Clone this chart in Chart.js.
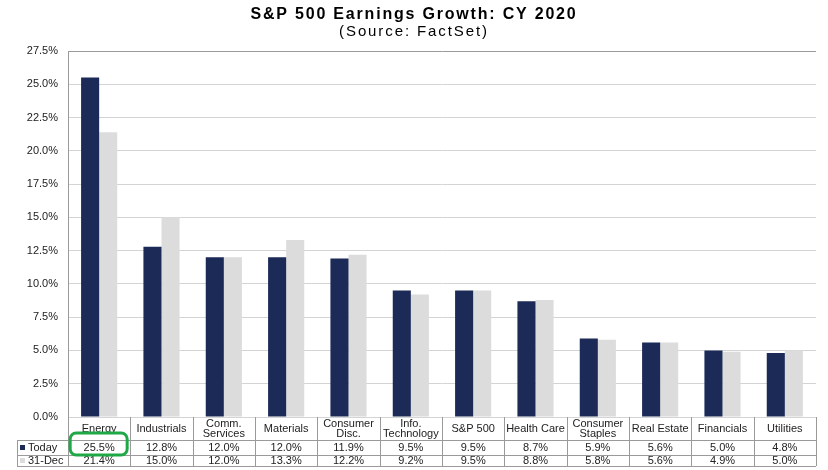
<!DOCTYPE html>
<html>
<head>
<meta charset="utf-8">
<script src="https://cdn.jsdelivr.net/npm/chart.js@4/dist/chart.umd.min.js"></script>
<style>
  html, body { margin: 0; padding: 0; background: #fff; }
  #wrap { width: 828px; height: 470px; }
</style>
</head>
<body>
<div id="wrap"><canvas id="myChart" width="828" height="470"></canvas></div>
<script>
// data
var categories = ['Energy', 'Industrials', ['Comm.', 'Services'], 'Materials', ['Consumer', 'Disc.'],
    ['Info.', 'Technology'], 'S&P 500', 'Health Care', ['Consumer', 'Staples'], 'Real Estate', 'Financials', 'Utilities'];
var today = [25.5, 12.8, 12.0, 12.0, 11.9, 9.5, 9.5, 8.7, 5.9, 5.6, 5.0, 4.8];
var dec31 = [21.4, 15.0, 12.0, 13.3, 12.2, 9.2, 9.5, 8.8, 5.8, 5.6, 4.9, 5.0];
var seriesNames = ['Today', '31-Dec'];
var yTicks = [0, 2.5, 5, 7.5, 10, 12.5, 15, 17.5, 20, 22.5, 25, 27.5];
var titleText = 'S&P 500 Earnings Growth: CY 2020';
var subtitleText = '(Source: FactSet)';

var navy = '#1b2a57';
var light = '#dcdcdc';
var fontFam = '"Liberation Sans", Arial, sans-serif';

// title drawn by hand: the original is spaced wider than the plain font
const titlePlugin = {
    id: 'wide_title',
    afterDraw: (chart) => {
        const ctx = chart.ctx;
        const cx = chart.width / 2;
        ctx.save();
        ctx.fillStyle = '#000';
        ctx.textAlign = 'center';
        ctx.textBaseline = 'middle';
        ctx.font = 'bold 16px ' + fontFam;
        ctx.letterSpacing = '1.8px';
        ctx.fillText(titleText, cx, 15);
        ctx.font = '15px ' + fontFam;
        ctx.letterSpacing = '1.9px';
        ctx.fillText(subtitleText, cx, 32);
        ctx.restore();
    }
};

// table under the bars (the data table of the original excel chart)
const tablePlugin = {
    id: 'data_table',
    afterDraw: (chart) => {
        const ctx = chart.ctx;
        const x = chart.scales.x;
        const area = chart.chartArea;
        const half = (x.getPixelForValue(1) - x.getPixelForValue(0)) / 2;
        const y0 = area.bottom, y1 = y0 + 23, y2 = y1 + 15, y3 = y2 + 11;
        const left = 17;
        ctx.save();
        ctx.strokeStyle = '#9a9a9a';
        ctx.lineWidth = 1;
        ctx.beginPath();
        // horizontal lines
        [y1, y2, y3].forEach(function (yy) {
            ctx.moveTo(left, yy + 0.5); ctx.lineTo(area.right, yy + 0.5);
        });
        // vertical lines
        ctx.moveTo(left + 0.5, y1); ctx.lineTo(left + 0.5, y3);
        for (let i = 0; i <= categories.length; i++) {
            const px = Math.round(x.getPixelForValue(i) - half) + 0.5;
            ctx.moveTo(px, y0); ctx.lineTo(px, y3);
        }
        ctx.stroke();

        ctx.fillStyle = '#222';
        ctx.font = '11px ' + fontFam;
        ctx.textAlign = 'center';
        ctx.textBaseline = 'middle';
        categories.forEach(function (c, i) {
            const cx = x.getPixelForValue(i);
            if (Array.isArray(c)) {
                ctx.fillText(c[0], cx, y0 + 7);
                ctx.fillText(c[1], cx, y0 + 17);
            } else {
                ctx.fillText(c, cx, y0 + 12);
            }
            ctx.fillText(today[i].toFixed(1) + '%', cx, (y1 + y2) / 2);
            ctx.fillText(dec31[i].toFixed(1) + '%', cx, (y2 + y3) / 2);
        });
        // series keys in the left column
        ctx.textAlign = 'left';
        [[navy, seriesNames[0], (y1 + y2) / 2], [light, seriesNames[1], (y2 + y3) / 2]].forEach(function (r) {
            ctx.fillStyle = r[0];
            ctx.fillRect(20, r[2] - 2.5, 5, 5);
            ctx.fillStyle = '#222';
            ctx.fillText(r[1], 28, r[2]);
        });

        // green highlight round Energy / Today
        const ex = x.getPixelForValue(0);
        ctx.strokeStyle = '#1fa846';
        ctx.lineWidth = 3;
        ctx.beginPath();
        ctx.roundRect(ex - 29, y1 - 7, 57, 22, 6);
        ctx.stroke();
        ctx.restore();
    }
};

var ctx = document.getElementById('myChart');
var myChart = new Chart(ctx, {
    type: 'bar',
    data: {
        labels: categories,
        datasets: [
            { label: seriesNames[0], data: today, backgroundColor: navy },
            { label: seriesNames[1], data: dec31, backgroundColor: light }
        ]
    },
    options: {
        responsive: false,
        animation: false,
        datasets: { bar: { categoryPercentage: 0.58, barPercentage: 1.0 } },
        layout: { padding: { left: 0, right: 12, top: 51, bottom: 53 } },
        plugins: {
            legend: { display: false },
            tooltip: { enabled: false }
        },
        scales: {
            x: { display: false },
            y: {
                min: 0,
                max: 27.5,
                afterFit: (scale) => { scale.width = 68; },
                afterBuildTicks: (scale) => { scale.ticks = yTicks.map(v => ({ value: v })); },
                ticks: {
                    padding: 10,
                    color: '#222',
                    font: { family: fontFam, size: 11 },
                    callback: (v) => v.toFixed(1) + '%'
                },
                grid: {
                    drawTicks: false,
                    color: (c) => c.tick && c.tick.value === 27.5 ? '#9a9a9a' : '#d4d4d4'
                },
                border: { color: '#9a9a9a' }
            }
        }
    },
    plugins: [titlePlugin, tablePlugin]
});
</script>
</body>
</html>
